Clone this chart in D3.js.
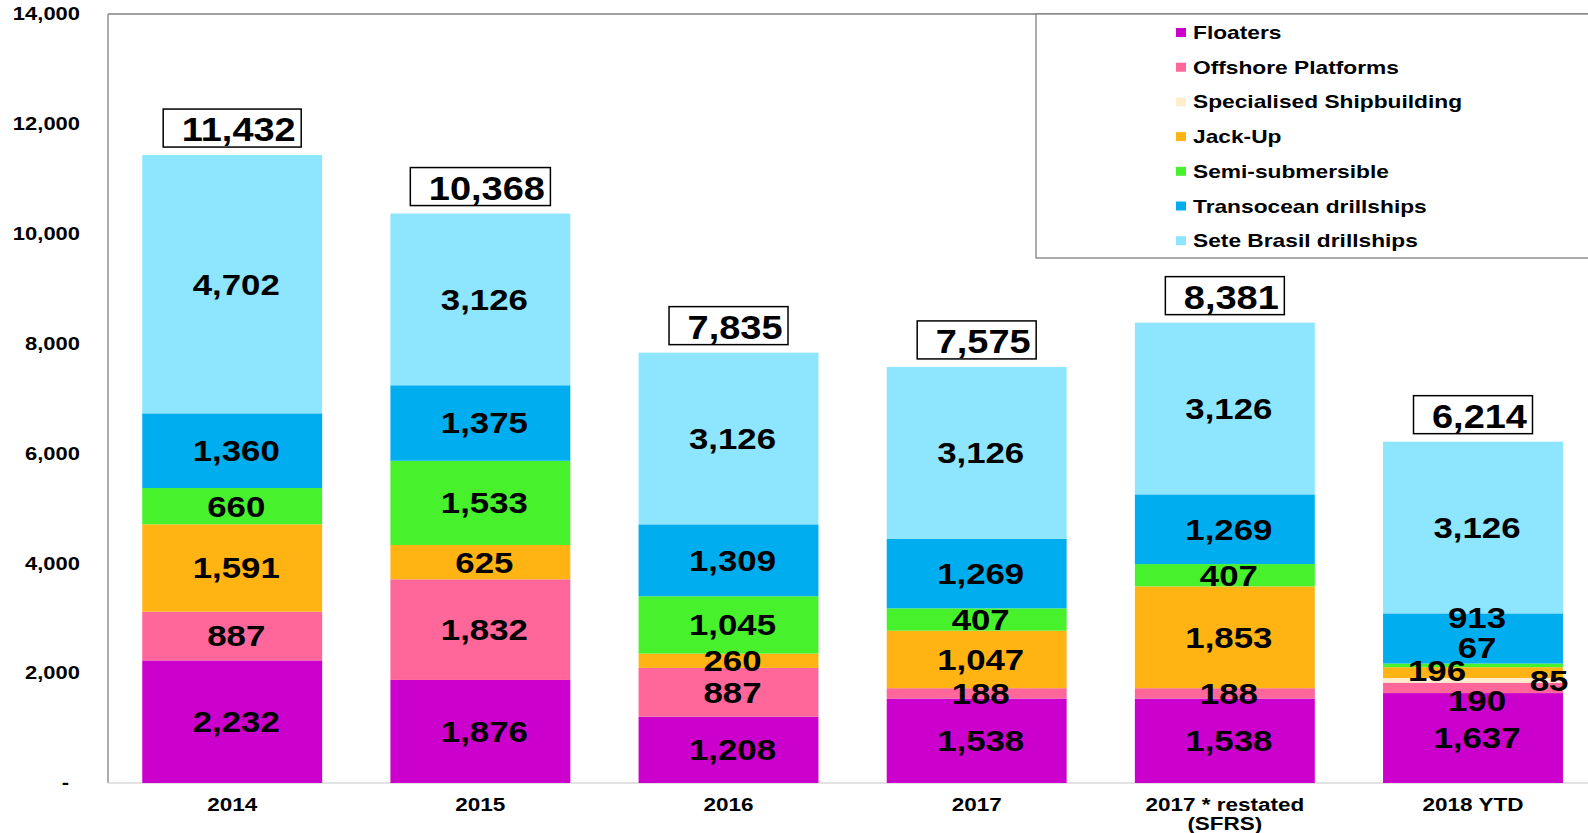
<!DOCTYPE html>
<html>
<head>
<meta charset="utf-8">
<script src="https://cdn.jsdelivr.net/npm/d3@7"></script>
<style>
  body { margin: 0; background: #fff; }
  text { font-family: "Liberation Sans", Arial, sans-serif; font-weight: bold; fill: #000; }
</style>
</head>
<body>
<div id="chart"></div>
<script>

// Categories and tick labels
const categories = ["2014", "2015", "2016", "2017", "2017 * restated (SFRS)", "2018 YTD"];
const categoryLines = [["2014"], ["2015"], ["2016"], ["2017"], ["2017 * restated", "(SFRS)"], ["2018 YTD"]];
const yTicks = [0, 2000, 4000, 6000, 8000, 10000, 12000, 14000];

// Series (bottom to top)
const seriesNames = ["Floaters", "Offshore Platforms", "Specialised Shipbuilding", "Jack-Up",
                     "Semi-submersible", "Transocean drillships", "Sete Brasil drillships"];
const seriesColors = ["#cc00cc", "#ff6699", "#ffedcc", "#ffb414", "#47f22d", "#00adef", "#8de6fe"];

const floaters      = [2232, 1876, 1208, 1538, 1538, 1637];
const offshore      = [887, 1832, 887, 188, 188, 190];
const specialised   = [0, 0, 0, 0, 0, 85];
const jackUp        = [1591, 625, 260, 1047, 1853, 196];
const semiSub       = [660, 1533, 1045, 407, 407, 67];
const transocean    = [1360, 1375, 1309, 1269, 1269, 913];
const seteBrasil    = [4702, 3126, 3126, 3126, 3126, 3126];
const totals        = [11432, 10368, 7835, 7575, 8381, 6214];

const seriesValues = [floaters, offshore, specialised, jackUp, semiSub, transocean, seteBrasil];

// Build table for d3.stack
const table = categories.map((c, i) => {
    const row = {category: c, total: totals[i]};
    seriesNames.forEach((s, j) => row[s] = seriesValues[j][i]);
    return row;
});

const W = 1588, H = 833;
const plotLeft = 108, plotTop = 14, plotBottom = 783;

const svg = d3.select("#chart").append("svg")
    .attr("width", W).attr("height", H);

const x = d3.scaleBand()
    .domain(categories)
    .range([plotLeft, plotLeft + 6 * 248.2])
    .paddingInner(0.275)
    .paddingOuter(0.138);

const y = d3.scaleLinear().domain([0, 14000]).range([plotBottom, plotTop]);

const fmt = d3.format(",");

// Plot frame
svg.append("line").attr("x1", plotLeft).attr("x2", W).attr("y1", plotTop).attr("y2", plotTop)
    .attr("stroke", "#808080").attr("stroke-width", 1.3);
svg.append("line").attr("x1", plotLeft).attr("x2", plotLeft).attr("y1", plotTop).attr("y2", plotBottom)
    .attr("stroke", "#808080").attr("stroke-width", 1.3);
svg.append("line").attr("x1", plotLeft).attr("x2", W).attr("y1", plotBottom).attr("y2", plotBottom)
    .attr("stroke", "#d9d9d9").attr("stroke-width", 1.3);

// Y axis
const yAxis = svg.append("g")
    .attr("transform", `translate(${plotLeft},0)`)
    .call(d3.axisLeft(y).tickValues(yTicks).tickSize(0)
        .tickFormat(d => d === 0 ? "-" : fmt(d)));
yAxis.select(".domain").remove();
yAxis.selectAll("text")
    .attr("x", 0)
    .attr("transform", d => `translate(${d === 0 ? -39 : -28},0) scale(1.22,1)`)
    .style("font-size", "18px")
    .attr("fill", "#111");

// X axis
const xAxis = svg.append("g")
    .attr("transform", `translate(0,${plotBottom})`)
    .call(d3.axisBottom(x).tickSize(0));
xAxis.select(".domain").remove();
xAxis.selectAll("text").each(function(d, i) {
    const t = d3.select(this).text(null).attr("dy", null).attr("y", null)
        .attr("transform", "scale(1.25,1)")
        .style("font-size", "18px")
        .attr("fill", "#111");
    categoryLines[i].forEach((line, k) => {
        t.append("tspan").attr("x", 0).attr("y", 28 + k * 19).text(line);
    });
});

// Stacked bars
const stack = d3.stack().keys(seriesNames);
const layers = stack(table);

const layerG = svg.selectAll(".layer")
    .data(layers)
    .join("g")
    .attr("class", "layer")
    .attr("fill", (d, i) => seriesColors[i]);

layerG.selectAll("rect")
    .data(d => d)
    .join("rect")
    .attr("x", d => x(d.data.category))
    .attr("width", x.bandwidth())
    .attr("y", d => y(d[1]))
    .attr("height", d => y(d[0]) - y(d[1]));

// Segment labels (a few small 2018 segments are nudged to stay readable)
const labelNudge = {
    "2018 YTD|Transocean drillships": [0, -21],
    "2018 YTD|Semi-submersible": [0, -18],
    "2018 YTD|Jack-Up": [-40, -2],
    "2018 YTD|Specialised Shipbuilding": [72, 0],
    "2018 YTD|Offshore Platforms": [0, 13]
};

layers.forEach((layer, j) => {
    layer.forEach(d => {
        const v = d[1] - d[0];
        if (v <= 0) return;
        const key = d.data.category + "|" + seriesNames[j];
        const n = labelNudge[key] || [0, 0];
        const cx = x(d.data.category) + x.bandwidth() / 2 + 4 + n[0];
        const cy = (y(d[0]) + y(d[1])) / 2 + n[1];
        svg.append("text")
            .attr("transform", `translate(${cx},${cy}) scale(1.2,1)`)
            .attr("text-anchor", "middle")
            .attr("dy", "0.36em")
            .style("font-size", "29px")
            .text(fmt(v));
    });
});

// Total boxes
table.forEach(d => {
    const cx = x(d.category) + x.bandwidth() / 2;
    const top = y(d3.sum(seriesNames, s => d[s]));
    const g = svg.append("g");
    const t = g.append("text")
        .attr("text-anchor", "middle")
        .style("font-size", "33px")
        .text(fmt(d.total));
    const w = t.node().getComputedTextLength() * 1.15;
    const bw = w + 24;
    t.attr("transform", `translate(${cx + 6.5},${top - 14}) scale(1.15,1)`);
    g.insert("rect", "text")
        .attr("x", cx - bw / 2).attr("y", top - 46)
        .attr("width", bw).attr("height", 38)
        .attr("fill", "#fff").attr("stroke", "#000").attr("stroke-width", 1.5);
});

// Legend
const legend = svg.append("g");
legend.append("rect")
    .attr("x", 1036).attr("y", plotTop)
    .attr("width", W).attr("height", 258 - plotTop)
    .attr("fill", "#fff").attr("stroke", "#808080").attr("stroke-width", 1.3);

seriesNames.forEach((s, i) => {
    const cy = 32.5 + i * 34.7;
    legend.append("rect")
        .attr("x", 1176).attr("y", cy - 4.5)
        .attr("width", 10).attr("height", 9)
        .attr("fill", seriesColors[i]);
    legend.append("text")
        .attr("transform", `translate(1193,${cy + 6.5}) scale(1.3,1)`)
        .style("font-size", "17.5px")
        .text(s);
});

</script>
</body>
</html>
